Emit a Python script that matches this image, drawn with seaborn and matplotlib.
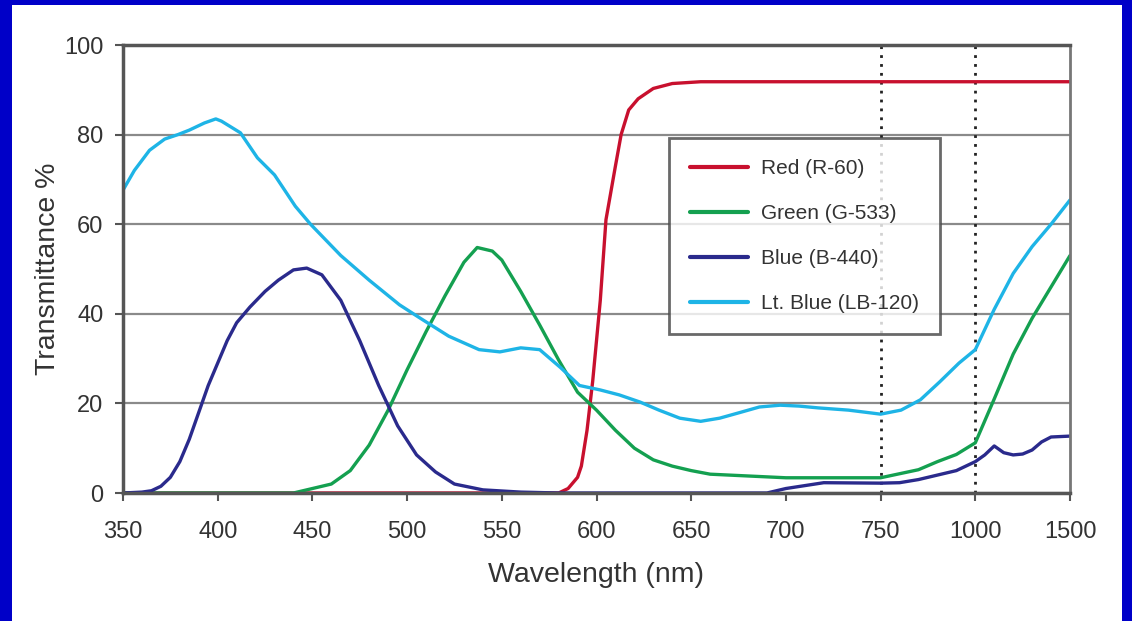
import numpy as np
import pandas as pd
import seaborn as sns
import matplotlib.pyplot as plt
from matplotlib.patches import Rectangle

# axis ticks (the wavelength axis is not linear: 750, 1000, 1500 are equally spaced)
tick_wl = [350, 400, 450, 500, 550, 600, 650, 700, 750, 1000, 1500]
tick_labels = [str(t) for t in tick_wl]
y_ticks = [0, 20, 40, 60, 80, 100]

# curves: wavelength (nm) / transmittance (%)
red_wl = [350, 450, 580, 585, 590, 592, 595, 598, 602, 605, 610, 613, 617, 622, 630, 640, 655, 700, 1500]
red_t = [0, 0, 0, 1, 3.5, 6, 14, 25, 43, 61, 73, 80, 85.5, 88, 90.3, 91.4, 91.8, 91.8, 91.8]

green_wl = [350, 440, 450, 460, 470, 480, 490, 500, 510, 520, 530, 537, 545, 550, 560, 570,
            580, 590, 600, 610, 620, 630, 640, 650, 660, 680, 700, 750, 800, 850, 900, 950,
            1000, 1100, 1200, 1300, 1400, 1500]
green_t = [0, 0, 1, 2, 5, 10.7, 18.5, 27.5, 36, 44, 51.5, 54.8, 54, 52, 45, 37.5,
           29.7, 22.5, 18.5, 14, 10, 7.4, 6, 5, 4.2, 3.8, 3.4, 3.4, 4.3, 5.2, 7, 8.6,
           11.2, 21, 31, 39, 46, 53]

blue_wl = [350, 360, 365, 370, 375, 380, 385, 390, 395, 400, 405, 410, 417, 425, 432, 440,
           447, 455, 465, 475, 485, 495, 505, 515, 525, 540, 560, 580, 690, 700, 720, 750,
           800, 850, 900, 950, 1000, 1050, 1100, 1150, 1200, 1250, 1300, 1350, 1400, 1500]
blue_t = [0, 0.2, 0.5, 1.5, 3.5, 7, 12, 18, 24, 29, 34, 38, 41.5, 45, 47.5, 49.8,
          50.2, 48.7, 43, 34, 24, 15, 8.5, 4.7, 2, 0.7, 0.2, 0, 0, 1, 2.3, 2.2,
          2.3, 3, 4, 5, 7, 8.5, 10.5, 9, 8.5, 8.7, 9.6, 11.4, 12.5, 12.7]

ltblue_wl = [350, 356, 364, 372, 379, 385, 393, 399, 402, 412, 421, 430, 441, 449, 465, 480,
             496, 507, 522, 538, 549, 560, 570, 581, 591, 602, 612, 623, 633, 644, 655, 665,
             676, 686, 697, 707, 717, 733, 750, 804, 855, 906, 957, 1000, 1100, 1200, 1300,
             1400, 1500]
ltblue_t = [67.6, 72, 76.5, 79, 80, 81, 82.6, 83.5, 83, 80.4, 74.8, 71, 64, 60, 53, 47.5,
            42, 39, 35, 32, 31.5, 32.4, 32, 28, 24, 23, 21.9, 20.3, 18.5, 16.7, 16, 16.7,
            18, 19.2, 19.6, 19.4, 19, 18.5, 17.6, 18.5, 20.8, 24.8, 29, 32, 41, 49, 55,
            60, 65.4]

names = ["Red (R-60)", "Green (G-533)", "Blue (B-440)", "Lt. Blue (LB-120)"]
colors = ["#C8102E", "#14A050", "#2A2A8C", "#1EB4E6"]

df = pd.concat([
    pd.DataFrame({"wl": red_wl, "t": red_t, "filter": names[0]}),
    pd.DataFrame({"wl": green_wl, "t": green_t, "filter": names[1]}),
    pd.DataFrame({"wl": blue_wl, "t": blue_t, "filter": names[2]}),
    pd.DataFrame({"wl": ltblue_wl, "t": ltblue_t, "filter": names[3]}),
])

sns.set_theme(style="white")
plt.rcParams["font.family"] = ["Liberation Sans", "DejaVu Sans"]

fig = plt.figure(figsize=(11.32, 6.21), dpi=100)
fig.patch.set_facecolor("#0000C8")
fig.patches.append(Rectangle((12 / 1132, 0), (1122 - 12) / 1132, (621 - 5) / 621,
                             transform=fig.transFigure, facecolor="white",
                             edgecolor="none", zorder=-1))

ax = fig.add_axes([123 / 1132, (621 - 493) / 621, (1070 - 123) / 1132, (493 - 45) / 621])
ax.set_facecolor("white")

# piecewise linear scale so the ticks are evenly spaced
pos = np.arange(len(tick_wl))
ax.set_xscale("function", functions=(lambda x: np.interp(x, tick_wl, pos),
                                     lambda p: np.interp(p, pos, tick_wl)))

sns.lineplot(data=df, x="wl", y="t", hue="filter", palette=colors, hue_order=names,
             linewidth=2.4, estimator=None, sort=False, ax=ax, legend=False)

for v in [750, 1000]:
    ax.plot([v, v], [0, 100], color="#222222", linestyle=(0, (1, 2.2)), linewidth=2, zorder=1)

ax.set_xlim(350, 1500)
ax.set_ylim(0, 100)
ax.set_xticks(tick_wl)
ax.set_xticklabels(tick_labels)
ax.set_yticks(y_ticks)
ax.yaxis.grid(True, color="#8a8a8a", linewidth=1.6)
ax.set_axisbelow(True)
for s in ["left", "bottom", "top"]:
    ax.spines[s].set_color("#555555")
    ax.spines[s].set_linewidth(2.5)
ax.spines["right"].set_color("#777777")
ax.spines["right"].set_linewidth(2)

ax.tick_params(axis="both", which="both", direction="out", length=6, width=1.5,
               color="#555555", labelsize=17, labelcolor="#333333", pad=8)
ax.tick_params(axis="x", bottom=True, pad=14)
ax.tick_params(axis="y", left=True)

ax.set_xlabel("Wavelength (nm)", fontsize=20.5, color="#333333", labelpad=14)
ax.set_ylabel("Transmittance %", fontsize=20.5, color="#333333", labelpad=2)

handles = [plt.Line2D([], [], color=c, linewidth=3) for c in colors]
leg = ax.legend(handles, names, loc="upper left", bbox_to_anchor=(0.5766, 0.792),
                fontsize=15, frameon=True, fancybox=False, shadow=False,
                handlelength=2.8, labelspacing=1.25, borderpad=1.0, handletextpad=0.6,
                borderaxespad=0)
leg.get_frame().set_edgecolor("#444444")
leg.get_frame().set_linewidth(2)
for t in leg.get_texts():
    t.set_color("#333333")

fig.savefig("out.png", dpi=100, facecolor=fig.get_facecolor())
